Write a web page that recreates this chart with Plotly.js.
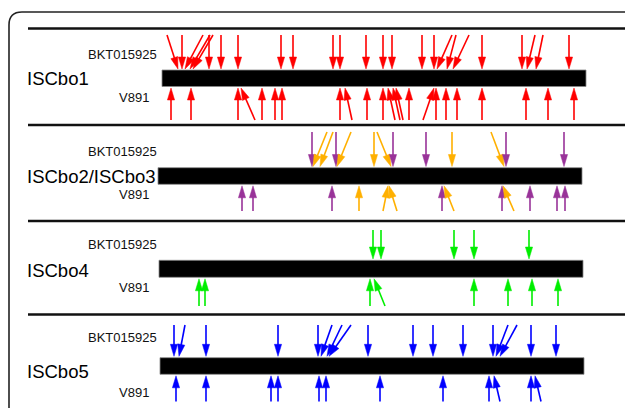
<!DOCTYPE html>
<html>
<head>
<meta charset="utf-8">
<script src="https://cdn.plot.ly/plotly-3.0.1.min.js"></script>
<style>html,body{margin:0;padding:0;background:#fff;}#chart{width:625px;height:408px;}</style>
</head>
<body>
<div id="chart"></div>
<script>
// ---------- DATA (positions along the element, in axis units) ----------
const elements = ["ISCbo1", "ISCbo2/ISCbo3", "ISCbo4", "ISCbo5"];
const strainTop = "BKT015925";
const strainBottom = "V891";
const elementStart = [162, 158, 159, 160];
const elementEnd   = [586, 582, 583, 584];

// ISCbo1
const iscbo1_bkt_tip  = [178,182,185,190,193,209,221,238,281,293,333,340,366,383,392,422,434,437,447,453,482,522,527,536,569];
const iscbo1_bkt_tail = [167,182,203,210,213,209,221,238,281,293,333,340,366,383,392,422,434,452,456,469,482,522,535,543,569];
const iscbo1_v891_tip  = [171,191,238,241,262,275,282,340,345,367,383,388,393,396,409,434,436,446,457,482,526,548,574];
const iscbo1_v891_tail = [171,191,238,255,262,275,282,340,352,367,383,395,400,403,409,423,436,446,457,482,526,548,574];

// ISCbo2 (purple) / ISCbo3 (orange)
const iscbo23_bkt_tip  = [312,313,320,336,337,374,391,393,426,452,504,506,564];
const iscbo23_bkt_tail = [312,327,333,336,351,374,377,393,426,452,491,506,564];
const iscbo23_bkt_elem = ["ISCbo2","ISCbo3","ISCbo3","ISCbo2","ISCbo3","ISCbo3","ISCbo3","ISCbo2","ISCbo2","ISCbo3","ISCbo3","ISCbo2","ISCbo2"];
const iscbo23_v891_tip  = [242,253,332,359,388,389,442,444,502,503,530,557,565];
const iscbo23_v891_tail = [242,253,332,359,383,397,442,454,502,514,530,557,565];
const iscbo23_v891_elem = ["ISCbo2","ISCbo2","ISCbo2","ISCbo3","ISCbo3","ISCbo3","ISCbo2","ISCbo3","ISCbo2","ISCbo3","ISCbo2","ISCbo2","ISCbo2"];

// ISCbo4
const iscbo4_bkt_tip  = [373,381,454,474,529];
const iscbo4_bkt_tail = [373,381,454,474,529];
const iscbo4_v891_tip  = [199,205,370,374,474,508,532,558];
const iscbo4_v891_tail = [199,205,370,385,474,508,532,558];

// ISCbo5
const iscbo5_bkt_tip  = [174,179,206,278,318,321,327,329,368,413,433,463,493,496,500,531,556];
const iscbo5_bkt_tail = [174,185,206,278,318,332,342,351,368,413,433,463,493,508,517,531,556];
const iscbo5_v891_tip  = [176,206,271,278,319,326,380,443,489,494,531,535];
const iscbo5_v891_tail = [176,206,271,278,319,326,380,443,489,500,531,541];

// ---------- STYLE / LAYOUT ----------
const elemColor = {"ISCbo1":"#ff0000","ISCbo2":"#993399","ISCbo3":"#ffb000","ISCbo4":"#00ee00","ISCbo5":"#0000ff"};
const FONT = "Liberation Sans, Arial, Helvetica, sans-serif";

const panels = [
  {sep:28.5, barTop:70, barBot:86.5, topTail:35, topTipY:69, botTipY:88, botTail:120, bktY:54, vY:97, nameY:78,
   top:{tip:iscbo1_bkt_tip, tail:iscbo1_bkt_tail, elem:null, def:"ISCbo1"},
   bot:{tip:iscbo1_v891_tip, tail:iscbo1_v891_tail, elem:null, def:"ISCbo1"}},
  {sep:125, barTop:167.7, barBot:184.3, topTail:132, topTipY:166.5, botTipY:185.8, botTail:211, bktY:151.5, vY:194.5, nameY:176,
   top:{tip:iscbo23_bkt_tip, tail:iscbo23_bkt_tail, elem:iscbo23_bkt_elem},
   bot:{tip:iscbo23_v891_tip, tail:iscbo23_v891_tail, elem:iscbo23_v891_elem}},
  {sep:221, barTop:260.3, barBot:277.3, topTail:230, topTipY:259, botTipY:278.8, botTail:306, bktY:244.5, vY:287.5, nameY:270,
   top:{tip:iscbo4_bkt_tip, tail:iscbo4_bkt_tail, elem:null, def:"ISCbo4"},
   bot:{tip:iscbo4_v891_tip, tail:iscbo4_v891_tail, elem:null, def:"ISCbo4"}},
  {sep:314.5, barTop:357.7, barBot:374.3, topTail:325, topTipY:356.3, botTipY:375.8, botTail:401.5, bktY:337, vY:392, nameY:371.5,
   top:{tip:iscbo5_bkt_tip, tail:iscbo5_bkt_tail, elem:null, def:"ISCbo5"},
   bot:{tip:iscbo5_v891_tip, tail:iscbo5_v891_tail, elem:null, def:"ISCbo5"}}
];

const shapes = [];
const annotations = [];

// outer rounded frame
shapes.push({type:"path", xref:"x", yref:"y", path:"M 9,430 L 9,25 Q 9,12 22,12 L 640,12",
  line:{color:"#222", width:1.6}});

function addArrow(xTail, yTail, xTip, yTip, color) {
  const dx = xTip - xTail, dy = yTip - yTail;
  const len = Math.hypot(dx, dy);
  const ux = dx / len, uy = dy / len;
  const L = 12, w = 3.6;
  const bx = xTip - ux * L, by = yTip - uy * L;
  const nx = -uy, ny = ux;
  shapes.push({type:"line", xref:"x", yref:"y", x0:xTail, y0:yTail, x1:bx + ux*1.5, y1:by + uy*1.5,
    line:{color:color, width:1.6}});
  shapes.push({type:"path", xref:"x", yref:"y",
    path:`M ${xTip},${yTip} L ${bx + nx*w},${by + ny*w} L ${bx - nx*w},${by - ny*w} Z`,
    fillcolor:color, line:{color:color, width:0.5}});
}

panels.forEach((p, i) => {
  // separator line
  shapes.push({type:"line", xref:"x", yref:"y", x0:28, x1:640, y0:p.sep, y1:p.sep, line:{color:"#111", width:2.6}});
  // element bar
  shapes.push({type:"rect", xref:"x", yref:"y", x0:elementStart[i], x1:elementEnd[i], y0:p.barTop, y1:p.barBot,
    fillcolor:"#000", line:{color:"#888", width:0.8}});
  // arrows from BKT015925 (above)
  p.top.tip.forEach((t, k) => {
    const c = elemColor[p.top.elem ? p.top.elem[k] : p.top.def];
    addArrow(p.top.tail[k], p.topTail, t, p.topTipY, c);
  });
  // arrows from V891 (below)
  p.bot.tip.forEach((t, k) => {
    const c = elemColor[p.bot.elem ? p.bot.elem[k] : p.bot.def];
    addArrow(p.bot.tail[k], p.botTail, t, p.botTipY, c);
  });
  // labels
  annotations.push({x:25, y:p.nameY, xref:"x", yref:"y", text:elements[i], showarrow:false,
    xanchor:"left", yanchor:"middle", font:{family:FONT, size:18.5, color:"#000"}});
  annotations.push({x:158.5, y:p.bktY, xref:"x", yref:"y", text:strainTop, showarrow:false,
    xanchor:"right", yanchor:"middle", font:{family:FONT, size:13, color:"#111"}});
  annotations.push({x:151, y:p.vY, xref:"x", yref:"y", text:strainBottom, showarrow:false,
    xanchor:"right", yanchor:"middle", font:{family:FONT, size:13, color:"#111"}});
});

const layout = {
  width:625, height:408,
  margin:{l:0, r:0, t:0, b:0, pad:0},
  paper_bgcolor:"#fff", plot_bgcolor:"#fff",
  showlegend:false,
  xaxis:{range:[0,625], visible:false, fixedrange:true},
  yaxis:{range:[408,0], visible:false, fixedrange:true},
  shapes:shapes,
  annotations:annotations
};

Plotly.newPlot("chart", [{x:[], y:[], type:"scatter", mode:"markers", hoverinfo:"skip"}], layout,
  {staticPlot:true, displayModeBar:false});
</script>
</body>
</html>
